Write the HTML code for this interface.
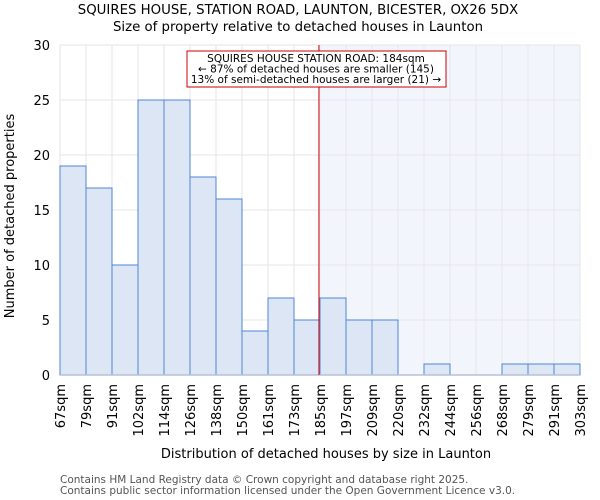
<!DOCTYPE html>
<html><head><meta charset="utf-8"><style>body{margin:0;background:#fff}svg{display:block;font-family:"DejaVu Sans","Liberation Sans",sans-serif}</style></head>
<body>
<svg id="c" width="600" height="500">
<text x="298" y="14" text-anchor="middle" font-size="13.3">SQUIRES HOUSE, STATION ROAD, LAUNTON, BICESTER, OX26 5DX</text>
<text x="298" y="31" text-anchor="middle" font-size="13.3">Size of property relative to detached houses in Launton</text>
<g id="plot"></g>
<text x="326" y="458" text-anchor="middle" font-size="13">Distribution of detached houses by size in Launton</text>
<text transform="translate(14,216) rotate(-90)" text-anchor="middle" font-size="13">Number of detached properties</text>
<text x="60" y="483" font-size="10.5" fill="#555">Contains HM Land Registry data © Crown copyright and database right 2025.</text>
<text x="60" y="494" font-size="10.5" fill="#555">Contains public sector information licensed under the Open Government Licence v3.0.</text>
</svg>
<script>
const binLabels=["67sqm","79sqm","91sqm","102sqm","114sqm","126sqm","138sqm","150sqm","161sqm","173sqm","185sqm","197sqm","209sqm","220sqm","232sqm","244sqm","256sqm","268sqm","279sqm","291sqm","303sqm"];
const counts=[19,17,10,25,25,18,16,4,7,5,7,5,5,0,1,0,0,1,1,1];
const yTicks=[0,5,10,15,20,25,30];
const markerBin=9.96;
const NS="http://www.w3.org/2000/svg";
const L=60,R=580,T=45,B=375,yMax=30;
const n=counts.length,bw=(R-L)/n;
const x=i=>L+i*bw, y=v=>B-(v/yMax)*(B-T);
const g=document.getElementById('plot');
function mk(t,a){const e=document.createElementNS(NS,t);for(const k in a)e.setAttribute(k,a[k]);g.appendChild(e);return e;}
let e;
e=mk('rect',{x:x(markerBin),y:T,width:R-x(markerBin),height:B-T,fill:'#f2f5fc'});


yTicks.forEach(v=>{e=mk('line',{x1:L,x2:R,y1:y(v),y2:y(v),stroke:'#e6e6e6'});


e=mk('text',{x:L-10,y:y(v)+5,'text-anchor':'end','font-size':13});e.textContent=v;

});
for(let i=0;i<=n;i++){e=mk('line',{x1:x(i),x2:x(i),y1:T,y2:B,stroke:'#e6e6e6'});

}
counts.forEach((v,i)=>{if(v<=0)return;e=mk('rect',{x:x(i),y:y(v),width:bw,height:B-y(v),fill:'#dde6f5',stroke:'#4f86d6','stroke-width':1});

});
e=mk('line',{x1:L,x2:R,y1:B,y2:B,stroke:'#b8c0d0','stroke-width':1.5});


binLabels.forEach((s,i)=>{e=mk('text',{transform:`translate(${x(i)+5},384) rotate(-90)`,'text-anchor':'end','font-size':13});e.textContent=s;

});
const mx=x(markerBin);
e=mk('line',{x1:mx,x2:mx,y1:T,y2:B,stroke:'#cc0000','stroke-width':1});


e=mk('rect',{x:187,y:51,width:259,height:36,fill:'#fff',stroke:'#cc0000'});


["SQUIRES HOUSE STATION ROAD: 184sqm","← 87% of detached houses are smaller (145)","13% of semi-detached houses are larger (21) →"].forEach((s,i)=>{
e=mk('text',{x:316,y:62+i*10.5,'text-anchor':'middle','font-size':10.5});e.textContent=s;

});
</script>
</body></html>
